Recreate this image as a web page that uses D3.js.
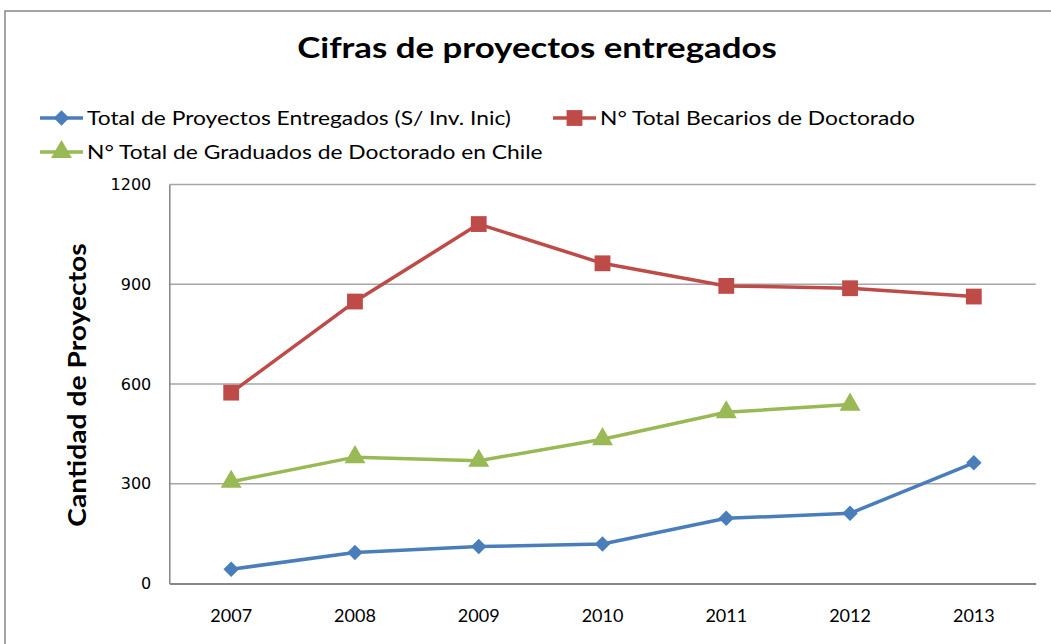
<!DOCTYPE html>
<html>
<head>
<meta charset="utf-8">
<script src="https://cdn.jsdelivr.net/npm/d3@7"></script>
<style>
  body { margin: 0; background: #fff; }
  svg { display: block; }
</style>
</head>
<body>
<div class="chart"></div>
<script>
var years = ["2007", "2008", "2009", "2010", "2011", "2012", "2013"];
var proyectos = [43, 93, 111, 119, 196, 211, 363];
var becarios = [574, 848, 1081, 963, 895, 888, 863];
var graduados = [306, 380, 369, 434, 515, 538, null];
var yTicks = [0, 300, 600, 900, 1200];

var seriesNames = ["Total de Proyectos Entregados (S/ Inv. Inic)",
    "N° Total Becarios de Doctorado",
    "N° Total de Graduados de Doctorado en Chile"];
var seriesColors = ["#4a7ebb", "#be4b48", "#98b954"];
var seriesShapes = [d3.symbolSquare, d3.symbolSquare, d3.symbolTriangle];
var seriesRotate = [45, 0, 0];
var symbolSizes = [120, 250, 190];
var seriesValues = [proyectos, becarios, graduados];

var svgWidth = 1051;
var svgHeight = 644;

var margin = { top: 184.5, right: 15.3, bottom: 60.5, left: 169.3 };
var width = svgWidth - margin.left - margin.right;
var height = svgHeight - margin.top - margin.bottom;

// the original text looks stretched sideways, so text gets a small x-scale
var stretch = 1.2;
var fontMain = "Lato, 'Open Sans', sans-serif";

var $svg = d3.select(".chart")
    .append("svg")
    .attr("width", svgWidth)
    .attr("height", svgHeight);

// outer chart border
$svg.append("rect")
    .attr("x", 5)
    .attr("y", 11)
    .attr("width", 1100)
    .attr("height", 700)
    .attr("fill", "#fff")
    .attr("stroke", "#868686")
    .attr("stroke-width", 1.5);

$svg.append("text")
    .attr("transform", `translate(537,58) scale(${stretch},1)`)
    .attr("text-anchor", "middle")
    .style("font-family", fontMain)
    .style("font-weight", "bold")
    .style("font-size", "29px")
    .text("Cifras de proyectos entregados");

var $chartGroup = $svg.append("g")
    .attr("transform", `translate(${margin.left}, ${margin.top})`);

var xScale = d3.scaleBand()
    .domain(years)
    .range([0, width]);

var yScale = d3.scaleLinear()
    .domain([0, 1200])
    .range([height, 0]);

// gridlines
$chartGroup.append("g")
    .selectAll("line")
    .data(yTicks.slice(1))
    .enter()
    .append("line")
    .attr("x1", 0)
    .attr("x2", width)
    .attr("y1", d => yScale(d))
    .attr("y2", d => yScale(d))
    .attr("stroke", "#a6a6a6")
    .attr("stroke-width", 1.5);

var yAxis = d3.axisLeft(yScale)
    .tickValues(yTicks)
    .tickFormat(d3.format("d"))
    .tickSize(0)
    .tickPadding(18);
var $yAxis = $chartGroup.append("g").call(yAxis);
$yAxis.select(".domain").attr("stroke", "#868686").attr("stroke-width", 1.5);
$yAxis.selectAll("text")
    .style("font-family", "'DejaVu Sans', Verdana, sans-serif")
    .style("font-size", "16px")
    .attr("fill", "#000");

var xAxis = d3.axisBottom(xScale).tickSize(0).tickPadding(26);
var $xAxis = $chartGroup.append("g")
    .attr("transform", `translate(0,${height})`)
    .call(xAxis);
$xAxis.select(".domain").attr("stroke", "#868686").attr("stroke-width", 2);
$xAxis.selectAll("text")
    .style("font-family", fontMain)
    .style("font-size", "18px")
    .attr("fill", "#000");

$svg.append("text")
    .attr("transform", `translate(86,385) rotate(-90) scale(1.13,1)`)
    .attr("text-anchor", "middle")
    .style("font-family", fontMain)
    .style("font-weight", "bold")
    .style("font-size", "25px")
    .text("Cantidad de Proyectos");

var line = d3.line()
    .defined(d => d != null)
    .x((d, i) => xScale(years[i]) + xScale.bandwidth() / 2)
    .y(d => yScale(d));

seriesValues.forEach((vals, s) => {
    $chartGroup.append("path")
        .datum(vals)
        .attr("fill", "none")
        .attr("stroke", seriesColors[s])
        .attr("stroke-width", 3.5)
        .attr("stroke-linejoin", "round")
        .attr("d", line);

    $chartGroup.selectAll(".pt" + s)
        .data(vals.map((v, i) => [years[i], v]).filter(d => d[1] != null))
        .enter()
        .append("path")
        .attr("class", "pt" + s)
        .attr("transform", d => `translate(${xScale(d[0]) + xScale.bandwidth() / 2},${yScale(d[1])}) rotate(${seriesRotate[s]})`)
        .attr("d", d3.symbol().type(seriesShapes[s]).size(symbolSizes[s]))
        .attr("fill", seriesColors[s]);
});

// legend
var legendItems = [
    { x: 40, y: 118 },
    { x: 553, y: 118 },
    { x: 40, y: 152 }
];

var $legend = $svg.append("g")
    .selectAll(".legendItem")
    .data(legendItems)
    .enter()
    .append("g")
    .attr("class", "legendItem")
    .attr("transform", d => `translate(${d.x},${d.y})`);

$legend.append("line")
    .attr("x1", 0)
    .attr("x2", 43)
    .attr("stroke", (d, i) => seriesColors[i])
    .attr("stroke-width", 3.5);

$legend.append("path")
    .attr("transform", (d, i) => `translate(21.5,0) rotate(${seriesRotate[i]})`)
    .attr("d", (d, i) => d3.symbol().type(seriesShapes[i]).size(symbolSizes[i])())
    .attr("fill", (d, i) => seriesColors[i]);

$legend.append("text")
    .attr("transform", `translate(47,0) scale(${stretch},1)`)
    .attr("dy", "0.35em")
    .style("font-family", fontMain)
    .style("font-size", "19px")
    .text((d, i) => seriesNames[i]);
</script>
</body>
</html>
